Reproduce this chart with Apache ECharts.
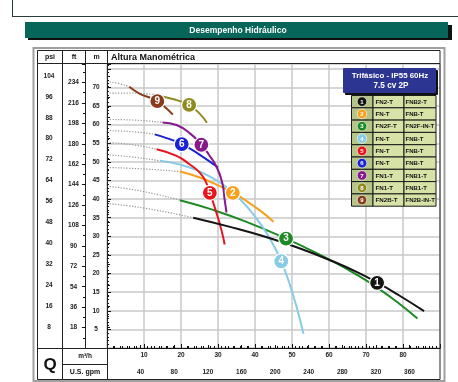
<!DOCTYPE html>
<html>
<head>
<meta charset="utf-8">
<script src="https://cdn.jsdelivr.net/npm/echarts@6/dist/echarts.min.js"></script>
<style>
  html, body { margin: 0; padding: 0; background: #fff; }
  #chart { width: 458px; height: 382px; }
</style>
</head>
<body>
<div id="chart"></div>
<script>
// Pump performance curves: [flow m³/h, head m]
// Dotted part = low-flow region, solid part = recommended operating range
const curve1Dotted = [[0, 38.8], [10, 37.6], [23.3, 35.0]];
const curve1Solid  = [[23.3, 35.0], [33, 32.6], [43, 29.8], [52, 26.8], [61, 23.3], [68, 20.2], [73, 17.6], [79, 14.1], [85.7, 9.9]];
const curve2Dotted = [[0, 48.5], [10, 48.1], [19.7, 47.4]];
const curve2Solid  = [[19.7, 47.4], [25.1, 45.8], [30.5, 43.5], [34, 41.7], [37.7, 39.5], [42.2, 36.3], [45, 33.9]];
const curve3Dotted = [[0, 43.5], [10, 42.0], [19.7, 39.7]];
const curve3Solid  = [[19.7, 39.7], [28.7, 37.1], [37.7, 33.9], [48.4, 29.4], [55, 26.3], [61, 23.3], [67.3, 19.8], [73.2, 16.1], [78.5, 12.3], [83.9, 7.9]];
const curve4Dotted = [[0, 51.9], [7, 51.3], [14.3, 50.3]];
const curve4Solid  = [[14.3, 50.3], [19.7, 49.3], [25.1, 47.4], [30, 44.8], [34, 41.8], [38, 37.8], [42, 32.6], [45, 27.6], [47.1, 23.3], [49.3, 17.4], [51.2, 11.2], [53.1, 3.8]];
const curve5Dotted = [[0, 55.2], [7, 54.6], [13.4, 53.4]];
const curve5Solid  = [[13.4, 53.4], [18.8, 51.6], [22.4, 49.3], [25, 47.2], [26.6, 44.9], [27.8, 41.7], [29.6, 36.3], [31, 31.4], [31.8, 27.8]];
const curve6Dotted = [[0, 58.4], [7, 58.1], [12.9, 57.4]];
const curve6Solid  = [[12.9, 57.4], [16.1, 56.4], [20.2, 54.8], [25.1, 51.9], [30, 48.5]];
const curve7Dotted = [[0, 61.4], [8, 61.2], [15, 60.6]];
const curve7Solid  = [[15, 60.6], [18.8, 59.9], [22.5, 57.6], [25.5, 54.6], [27.5, 52], [29.7, 48.5], [31.2, 44.2], [31.8, 39.8], [32.3, 36.4]];
const curve8Dotted = [[0, 68.5], [6, 68.5], [12.4, 68.1]];
const curve8Solid  = [[12.4, 68.1], [16.1, 67.3], [19.5, 66.4], [22.2, 65.3], [25.1, 62.9], [27, 60.5]];
const curve9Dotted = [[0, 71.6], [3, 71.1], [6, 70.2]];
const curve9Solid  = [[6, 70.2], [8.9, 68.3], [11.5, 67.3], [13.6, 66.3], [15.8, 64.6], [17.8, 62.7]];

// Numbered badge position on each curve
const badgePoints = [[73, 17.5], [34, 41.7], [48.4, 29.4], [47.1, 23.3], [27.8, 41.7], [20.2, 54.8], [25.5, 54.6], [22.2, 65.3], [13.6, 66.3]];

// Model names per curve (two versions)
const modelsA = ['FN2-T', 'FN-T', 'FN2F-T', 'FN-T', 'FN-T', 'FN-T', 'FN1-T', 'FN1-T', 'FN2B-T'];
const modelsB = ['FNB2-T', 'FNB-T', 'FN2F-IN-T', 'FNB-T', 'FNB-T', 'FNB-T', 'FNB1-T', 'FNB1-T', 'FN2B-IN-T'];

// Tick labels on each scale
const mTicks   = [5, 10, 15, 20, 25, 30, 35, 40, 45, 50, 55, 60, 65, 70];
const psiTicks = [8, 16, 24, 32, 40, 48, 56, 64, 72, 80, 88, 96, 104];
const ftTicks  = [18, 36, 54, 72, 90, 108, 126, 144, 162, 180, 198, 216, 234];
const m3hTicks = [10, 20, 30, 40, 50, 60, 70, 80];
const gpmTicks = [40, 80, 120, 160, 200, 240, 280, 320, 360];

const dottedCurves = [curve1Dotted, curve2Dotted, curve3Dotted, curve4Dotted, curve5Dotted, curve6Dotted, curve7Dotted, curve8Dotted, curve9Dotted];
const solidCurves  = [curve1Solid, curve2Solid, curve3Solid, curve4Solid, curve5Solid, curve6Solid, curve7Solid, curve8Solid, curve9Solid];
const curveColors  = ['#141414', '#f7a01c', '#1d8a26', '#88cbe6', '#e8141c', '#1a22d6', '#88198c', '#8e8c1e', '#8a3b1c'];

const FLOW_MAX = 90;      // m³/h
const HEAD_MAX = 76.3;    // m
const M_TO_PSI = 1.42233;
const M_TO_FT = 3.28084;
const M3H_TO_GPM = 4.40287;

const FONT = '"Liberation Sans", Arial, sans-serif';
const GRID_L = 107, GRID_T = 64, GRID_R = 440, GRID_B = 348;

const chart = echarts.init(document.getElementById('chart'), null, { renderer: 'canvas' });

function listFormatter(list) {
  return function (v) {
    const r = Math.round(v * 1000) / 1000;
    return list.indexOf(r) >= 0 ? String(r) : '';
  };
}

const labelStyle = { fontSize: 6.5, fontWeight: 'bold', color: '#222', fontFamily: FONT };

const series = [];
for (let i = 0; i < 9; i++) {
  series.push({
    type: 'line', data: dottedCurves[i], symbol: 'none', smooth: 0.5,
    lineStyle: { color: '#959595', width: 1.2, type: [1.2, 1.6] }, z: 3, silent: true
  });
  series.push({
    type: 'line', data: solidCurves[i], symbol: 'none', smooth: 0.5,
    lineStyle: { color: curveColors[i], width: 2 }, z: 4 + (i === 0 ? 1 : 0), silent: true
  });
  series.push({
    type: 'scatter', data: [badgePoints[i]], symbol: 'circle', symbolSize: 15,
    itemStyle: { color: curveColors[i], borderColor: '#fff', borderWidth: 1.2, opacity: 1 },
    label: {
      show: true, position: 'inside', formatter: String(i + 1),
      color: '#fff', fontSize: 10, fontWeight: 'bold', fontFamily: FONT
    },
    z: 10, silent: true
  });
}

// Frame, header bar, table cells and legend
const g = [];
const lineEl = (x1, y1, x2, y2, color, w, z) => ({
  type: 'line', shape: { x1, y1, x2, y2 }, style: { stroke: color, lineWidth: w }, z: z || 50, silent: true
});
const textEl = (x, y, text, opts) => ({
  type: 'text', x, y, z: (opts && opts.z) || 60, silent: true,
  style: Object.assign({ text, fill: '#111', font: 'bold 7px ' + FONT, textAlign: 'center', textVerticalAlign: 'middle' }, opts || {})
});

// top box
g.push(lineEl(12.5, 0, 12.5, 16.5, '#2b3b36', 1));
g.push(lineEl(12, 16.5, 458, 16.5, '#2b3b36', 1));
// title bar
g.push({ type: 'rect', shape: { x: 28, y: 25, width: 424, height: 15 }, style: { fill: '#101010' }, z: 40, silent: true });
g.push({ type: 'rect', shape: { x: 25, y: 22, width: 423, height: 16 }, style: { fill: '#06665a' }, z: 41, silent: true });
g.push(textEl(238, 30.5, 'Desempenho Hidráulico', { fill: '#ffffff', font: 'bold 8.5px ' + FONT }));
// chart frame
g.push({ type: 'rect', shape: { x: 33.5, y: 48, width: 411, height: 333 }, style: { fill: 'none', stroke: '#a0a0a0', lineWidth: 2 }, z: 45, silent: true });
g.push({ type: 'rect', shape: { x: 37.5, y: 50.5, width: 402.5, height: 329 }, style: { fill: 'none', stroke: '#222', lineWidth: 1 }, z: 46, silent: true });
// header row and columns
g.push(lineEl(37, 63.5, 440, 63.5, '#222', 1));
g.push(lineEl(62.5, 50, 62.5, 380, '#222', 1));
g.push(lineEl(85.5, 50, 85.5, 348.5, '#222', 1));
g.push(lineEl(107.5, 50, 107.5, 380, '#222', 1));
g.push(lineEl(37, 348.5, 107, 348.5, '#222', 1));
g.push(lineEl(62, 364.5, 107, 364.5, '#222', 1));
g.push(textEl(50, 57.5, 'psi'));
g.push(textEl(74, 57.5, 'ft'));
g.push(textEl(96.5, 57.5, 'm'));
g.push(textEl(111, 57.5, 'Altura Manométrica', { textAlign: 'left', font: 'bold 9px ' + FONT }));
g.push(textEl(50, 365, 'Q', { font: 'bold 17px ' + FONT }));
g.push(textEl(85, 356.5, 'm³/h', { font: 'bold 6.5px ' + FONT }));
g.push(textEl(85, 372.5, 'U.S. gpm', { font: 'bold 7px ' + FONT }));

// legend header
g.push({ type: 'rect', shape: { x: 345, y: 70, width: 93, height: 25, r: 1 }, style: { fill: '#111' }, z: 70, silent: true });
g.push({ type: 'rect', shape: { x: 343, y: 68, width: 93, height: 25, r: 1 }, style: { fill: '#2c3592' }, z: 71, silent: true });
g.push(textEl(390, 76, 'Trifásico - IP55 60Hz', { fill: '#fff', font: 'bold 7.9px ' + FONT, z: 72 }));
g.push(textEl(391, 85.5, '7.5 cv 2P', { fill: '#fff', font: 'bold 8.2px ' + FONT, z: 72 }));
// legend rows
const ROW_Y0 = 95.5, ROW_H = 12.3;
for (let i = 0; i < 9; i++) {
  const y = ROW_Y0 + i * ROW_H;
  g.push({ type: 'rect', shape: { x: 351.5, y, width: 21.5, height: ROW_H }, style: { fill: '#b4c587', stroke: '#1a1a1a', lineWidth: 1 }, z: 70, silent: true });
  g.push({ type: 'rect', shape: { x: 373, y, width: 31, height: ROW_H }, style: { fill: '#d6e2a6', stroke: '#1a1a1a', lineWidth: 1 }, z: 70, silent: true });
  g.push({ type: 'rect', shape: { x: 404, y, width: 32, height: ROW_H }, style: { fill: '#d6e2a6', stroke: '#1a1a1a', lineWidth: 1 }, z: 70, silent: true });
  g.push({ type: 'circle', shape: { cx: 362, cy: y + ROW_H / 2, r: 4.8 }, style: { fill: curveColors[i], stroke: '#fff', lineWidth: 0.6 }, z: 72, silent: true });
  g.push(textEl(362, y + ROW_H / 2 + 0.5, String(i + 1), { fill: '#fff', font: 'bold 6px ' + FONT, z: 73 }));
  g.push(textEl(375.5, y + ROW_H / 2 + 0.5, modelsA[i], { textAlign: 'left', font: 'bold 6.2px ' + FONT, z: 73 }));
  g.push(textEl(405.5, y + ROW_H / 2 + 0.5, modelsB[i], { textAlign: 'left', font: 'bold 6px ' + FONT, z: 73 }));
}

const option = {
  animation: false,
  backgroundColor: '#ffffff',
  grid: { left: GRID_L, top: GRID_T, width: GRID_R - GRID_L, height: GRID_B - GRID_T, containLabel: false },
  xAxis: [
    {
      type: 'value', min: 0, max: FLOW_MAX, interval: 10, position: 'bottom',
      axisLine: { show: true, lineStyle: { color: '#111', width: 1 } },
      axisTick: { show: true, inside: true, length: 4, lineStyle: { color: '#111' } },
      minorTick: { show: true, splitNumber: 5, length: 2, lineStyle: { color: '#111' } },
      splitLine: { show: true, lineStyle: { color: '#c8c8c8', width: 1.5 } },
      axisLabel: Object.assign({ margin: 4, formatter: listFormatter(m3hTicks), showMinLabel: false, showMaxLabel: false }, labelStyle)
    },
    {
      type: 'value', min: 0, max: FLOW_MAX * M3H_TO_GPM, interval: 40, position: 'bottom', offset: 16,
      axisLine: { show: true, lineStyle: { color: '#111', width: 1 } },
      axisTick: { show: true, inside: true, length: 3, lineStyle: { color: '#111' } },
      minorTick: { show: true, splitNumber: 5, length: 2, lineStyle: { color: '#111' } },
      splitLine: { show: false },
      axisLabel: Object.assign({ margin: 5, formatter: listFormatter(gpmTicks), showMinLabel: false, showMaxLabel: false }, labelStyle)
    }
  ],
  yAxis: [
    {
      type: 'value', min: 0, max: HEAD_MAX, interval: 5, position: 'left', offset: 0,
      axisLine: { show: true, lineStyle: { color: '#111', width: 1 } },
      axisTick: { show: true, inside: true, length: 4, lineStyle: { color: '#111' } },
      minorTick: { show: true, splitNumber: 5, length: 2, lineStyle: { color: '#111' } },
      splitLine: { show: true, lineStyle: { color: '#c8c8c8', width: 1.5 } },
      axisLabel: Object.assign({ margin: 11, align: 'center', formatter: listFormatter(mTicks), showMinLabel: false, showMaxLabel: false }, labelStyle)
    },
    {
      type: 'value', min: 0, max: HEAD_MAX * M_TO_PSI, interval: 8, position: 'left', offset: 45,
      axisLine: { show: true, lineStyle: { color: '#111', width: 1 } },
      axisTick: { show: true, inside: true, length: 3, lineStyle: { color: '#111' } },
      minorTick: { show: true, splitNumber: 2, length: 2, lineStyle: { color: '#111' } },
      splitLine: { show: false },
      axisLabel: Object.assign({ margin: 13, align: 'center', formatter: listFormatter(psiTicks), showMinLabel: false, showMaxLabel: false }, labelStyle)
    },
    {
      type: 'value', min: 0, max: HEAD_MAX * M_TO_FT, interval: 18, position: 'left', offset: 22,
      axisLine: { show: true, lineStyle: { color: '#111', width: 1 } },
      axisTick: { show: true, inside: false, length: 3, lineStyle: { color: '#111' } },
      minorTick: { show: true, splitNumber: 2, length: 2, lineStyle: { color: '#111' } },
      splitLine: { show: false },
      axisLabel: Object.assign({ margin: 11.5, align: 'center', formatter: listFormatter(ftTicks), showMinLabel: false, showMaxLabel: false }, labelStyle)
    }
  ],
  series: series,
  graphic: { elements: g }
};

chart.setOption(option);
</script>
</body>
</html>
